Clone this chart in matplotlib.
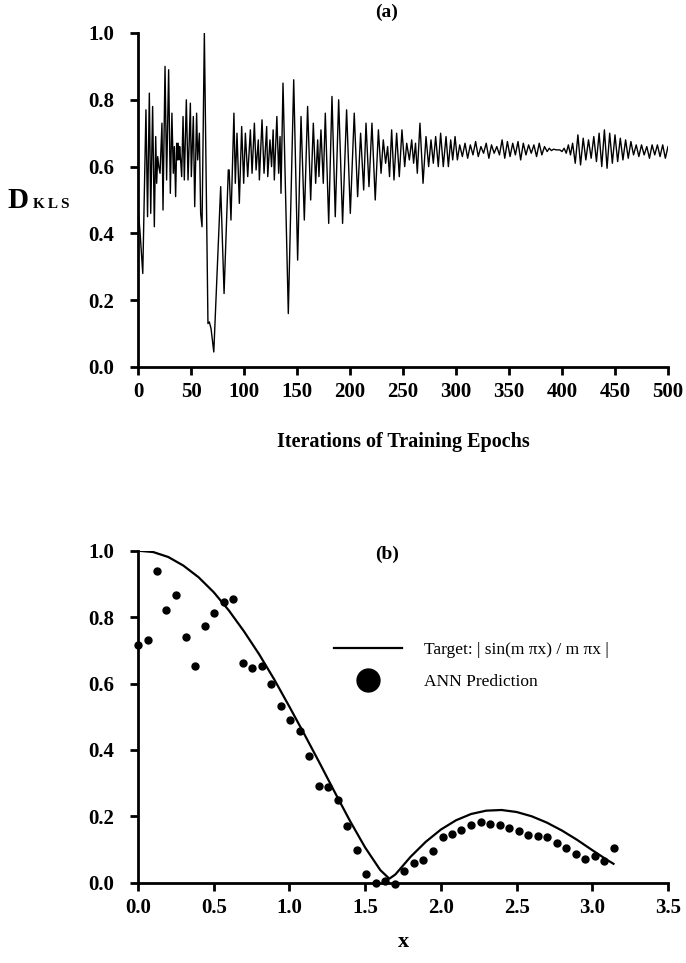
import matplotlib
matplotlib.use("Agg")
import matplotlib.pyplot as plt

plt.rcParams['font.family'] = ['Liberation Serif', 'DejaVu Serif']

# (a) D_KLS vs training epochs (epoch, value) at turning points
dkls_points = [
    (0, 0.48), (2, 0.40), (4.5, 0.28), (7.5, 0.77), (9, 0.45), (10.7, 0.82), (12, 0.46),
    (13.8, 0.78), (15.4, 0.42), (16.7, 0.69), (17.6, 0.55), (18.6, 0.63), (19.6, 0.60),
    (20.8, 0.58), (22.6, 0.73), (23.6, 0.47), (25.5, 0.90), (27, 0.56), (28.9, 0.89),
    (30.5, 0.52), (32, 0.76), (33.3, 0.58), (34.3, 0.66), (35.5, 0.51), (36.5, 0.67),
    (37.2, 0.62), (37.9, 0.67), (38.6, 0.62), (39.3, 0.66), (40, 0.63), (41.2, 0.57),
    (42.5, 0.75), (43.7, 0.56), (45.6, 0.80), (47.2, 0.56), (49.4, 0.79), (50.3, 0.57),
    (52.2, 0.75), (53.5, 0.48), (55.3, 0.76), (56.3, 0.62), (57.9, 0.70), (59.1, 0.46),
    (60.4, 0.42), (62.6, 1.00), (66, 0.13), (67.3, 0.135), (68.9, 0.115), (71.5, 0.045),
    (78, 0.54), (81.2, 0.22), (85.2, 0.59), (86, 0.59), (87.7, 0.44), (90.5, 0.76),
    (91.8, 0.55), (93.4, 0.70), (95.6, 0.49), (97.8, 0.72), (99.7, 0.55), (101.3, 0.70),
    (103.5, 0.57), (106, 0.71), (107.6, 0.58), (109.8, 0.73), (111.4, 0.59), (113.5, 0.68),
    (114.5, 0.56), (117, 0.74), (118.9, 0.58), (121.4, 0.72), (122.4, 0.57), (124.5, 0.68),
    (126, 0.60), (127.5, 0.71), (128.6, 0.56), (131, 0.75), (132.7, 0.58), (134, 0.69),
    (134.9, 0.52), (136.8, 0.85), (141.8, 0.16), (146.9, 0.86), (150.6, 0.32), (153.8, 0.75),
    (156.9, 0.44), (160, 0.78), (162.9, 0.50), (165.4, 0.73), (167.6, 0.55), (169.5, 0.68),
    (170.7, 0.57), (172.6, 0.71), (174.8, 0.55), (176.7, 0.76), (179.9, 0.43), (183, 0.81),
    (186.1, 0.45), (189.3, 0.80), (193, 0.43), (196.8, 0.77), (200.3, 0.46), (204, 0.76),
    (207.2, 0.51), (210, 0.70), (212.9, 0.53), (215.1, 0.73), (217.9, 0.54), (220.7, 0.73),
    (223.8, 0.50), (226.8, 0.71), (229.3, 0.58), (231.4, 0.68), (233.6, 0.61), (235.5, 0.66),
    (237.3, 0.57), (239.3, 0.71), (241.5, 0.56), (244, 0.70), (246.5, 0.57), (249, 0.71),
    (251.6, 0.60), (253.5, 0.67), (256, 0.62), (258.2, 0.68), (260, 0.61), (261.8, 0.67),
    (263.5, 0.58), (266, 0.73), (268.9, 0.55), (271.7, 0.69), (274.2, 0.60), (276.4, 0.68),
    (278.6, 0.61), (280.8, 0.69), (283.3, 0.60), (285.5, 0.70), (288, 0.60), (290.6, 0.69),
    (292.8, 0.60), (295, 0.68), (296.9, 0.62), (299.1, 0.69), (301.3, 0.62), (303.5, 0.665),
    (306, 0.63), (308.5, 0.67), (311, 0.625), (313.5, 0.665), (316, 0.635), (318.5, 0.675),
    (321, 0.63), (323.5, 0.66), (326, 0.64), (328.5, 0.67), (331, 0.625), (333.5, 0.665),
    (336, 0.64), (338.5, 0.66), (341, 0.635), (343.5, 0.68), (346, 0.625), (348.5, 0.675),
    (351, 0.63), (353.5, 0.67), (356, 0.635), (358.5, 0.675), (361, 0.62), (363.5, 0.67),
    (366, 0.635), (368.5, 0.665), (371, 0.64), (373.5, 0.665), (376, 0.63), (378.5, 0.67),
    (381, 0.635), (383.5, 0.66), (386, 0.645), (388, 0.655), (390, 0.648), (392, 0.652),
    (395, 0.65), (398, 0.65), (400, 0.645), (402, 0.655), (404, 0.64), (406, 0.665),
    (408, 0.635), (410, 0.67), (412.5, 0.61), (415, 0.695), (417.5, 0.605), (420, 0.685),
    (422.5, 0.62), (425, 0.68), (427.5, 0.625), (430, 0.69), (432.5, 0.615), (435, 0.70),
    (437.5, 0.60), (440, 0.71), (442.5, 0.595), (445, 0.70), (447.5, 0.61), (450, 0.695),
    (452.5, 0.615), (455, 0.685), (457.5, 0.62), (460, 0.68), (462.5, 0.625), (465, 0.675),
    (467.5, 0.635), (470, 0.665), (472.5, 0.63), (475, 0.665), (477.5, 0.635), (480, 0.66),
    (482.5, 0.625), (485, 0.665), (487.5, 0.635), (490, 0.665), (492.5, 0.63), (495, 0.665),
    (497.5, 0.625), (500, 0.66),
]
epochs = [p[0] for p in dkls_points]
dkls = [p[1] for p in dkls_points]

# (b) target curve and ANN prediction
target_x = [0.0, 0.1, 0.2, 0.3, 0.4, 0.5, 0.6, 0.7, 0.8, 0.9, 1.0, 1.1, 1.2, 1.3, 1.4, 1.5,
            1.6, 1.66, 1.7, 1.8, 1.9, 2.0, 2.1, 2.2, 2.3, 2.4, 2.5, 2.6, 2.7, 2.8, 2.9, 3.0,
            3.1, 3.14]
target_y = [1.000, 0.996, 0.981, 0.955, 0.920, 0.875, 0.820, 0.757, 0.688, 0.612, 0.530,
            0.446, 0.360, 0.272, 0.186, 0.106, 0.038, 0.012, 0.025, 0.078, 0.123, 0.160,
            0.188, 0.207, 0.217, 0.219, 0.213, 0.200, 0.181, 0.157, 0.129, 0.098, 0.068,
            0.057]

ann_x = [0.000, 0.063, 0.126, 0.188, 0.251, 0.314, 0.377, 0.440, 0.503, 0.565, 0.628,
         0.691, 0.754, 0.817, 0.880, 0.942, 1.005, 1.068, 1.131, 1.194, 1.257, 1.319,
         1.382, 1.445, 1.508, 1.571, 1.634, 1.696, 1.759, 1.822, 1.885, 1.948, 2.011,
         2.073, 2.136, 2.199, 2.262, 2.325, 2.388, 2.450, 2.513, 2.576, 2.639, 2.702,
         2.765, 2.827, 2.890, 2.953, 3.016, 3.079, 3.142]
ann_y = [0.717, 0.730, 0.940, 0.822, 0.868, 0.740, 0.653, 0.774, 0.812, 0.845, 0.854,
         0.661, 0.646, 0.653, 0.598, 0.531, 0.491, 0.457, 0.381, 0.290, 0.288, 0.248,
         0.170, 0.100, 0.025, 0.000, 0.005, -0.005, 0.035, 0.060, 0.068, 0.095, 0.137,
         0.148, 0.160, 0.173, 0.182, 0.176, 0.173, 0.165, 0.155, 0.145, 0.140, 0.138,
         0.120, 0.105, 0.085, 0.072, 0.080, 0.065, 0.105]

top_xticks = [0, 50, 100, 150, 200, 250, 300, 350, 400, 450, 500]
bot_xticks = [0.0, 0.5, 1.0, 1.5, 2.0, 2.5, 3.0, 3.5]
yticks = [0.0, 0.2, 0.4, 0.6, 0.8, 1.0]

W, H = 686, 963
fig = plt.figure(figsize=(W / 100, H / 100), dpi=100)


def style(ax):
    for s in ("top", "right"):
        ax.spines[s].set_visible(False)
    for s in ("left", "bottom"):
        ax.spines[s].set_linewidth(2)
    ax.tick_params(axis="both", direction="out", length=6, width=2, labelsize=15)
    ax.tick_params(axis="y", pad=11)
    ax.tick_params(axis="x", pad=5)
    for lab in ax.get_xticklabels() + ax.get_yticklabels():
        lab.set_fontweight("bold")


ax1 = fig.add_axes([138 / W, 1 - 367 / H, 530 / W, 334 / H])
ax1.plot(epochs, dkls, color="black", lw=1.0)
ax1.set_xlim(0, 500)
ax1.set_ylim(0, 1)
ax1.set_xticks(top_xticks)
ax1.set_xticklabels([str(t) for t in top_xticks])
ax1.set_yticks(yticks)
ax1.set_yticklabels([f"{t:.1f}" for t in yticks])
style(ax1)
ax1.set_xlabel("Iterations of Training Epochs", fontsize=14.5, fontweight="bold", va="center")
ax1.xaxis.set_label_coords(0.5, -0.225)

fig.text(7 / W, 1 - 208 / H, "D", fontsize=21, fontweight="bold", va="baseline")
fig.text(33 / W, 1 - 208 / H, "K\u2009L\u2009S", fontsize=11, fontweight="bold", va="baseline")
fig.text(387 / W, 1 - 12 / H, "(a)", fontsize=14, fontweight="bold", ha="center", va="center")

ax2 = fig.add_axes([138 / W, 1 - 882.7 / H, 530 / W, 332 / H])
ax2.plot(target_x, target_y, color="black", lw=1.6,
         label="Target: | sin(m \u03c0x) / m \u03c0x |")
ax2.plot(ann_x, ann_y, "o", color="black", ms=5, clip_on=False, label="ANN Prediction")
ax2.set_xlim(0, 3.5)
ax2.set_ylim(0, 1)
ax2.set_xticks(bot_xticks)
ax2.set_xticklabels([f"{t:.1f}" for t in bot_xticks])
ax2.set_yticks(yticks)
ax2.set_yticklabels([f"{t:.1f}" for t in yticks])
style(ax2)
ax2.set_xlabel("x", fontsize=16, fontweight="bold", va="center")
ax2.xaxis.set_label_coords(0.5, -0.18)
ax2.text(0.47, 0.99, "(b)", transform=ax2.transAxes, fontsize=14, fontweight="bold",
         ha="center", va="center")
ax2.legend(loc="upper left", bbox_to_anchor=(0.37, 0.725), frameon=False, fontsize=12.5,
           handlelength=3.9, handletextpad=1.25, labelspacing=0.9, markerscale=3.3,
           borderpad=0, borderaxespad=0)

fig.savefig("out.png", dpi=100)
